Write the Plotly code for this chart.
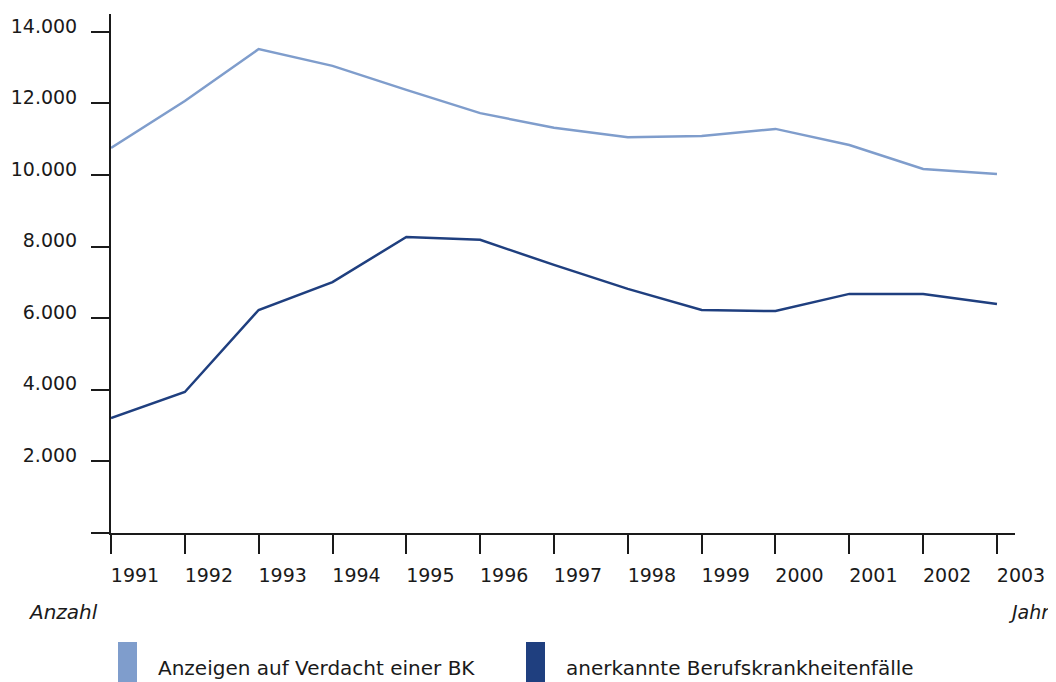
import plotly.graph_objects as go

years = list(range(1991, 2004))
anzeigen = [10760, 12070, 13520, 13050, 12380, 11730, 11320, 11060, 11090, 11290, 10840, 10170, 10030]
anerkannt = [3210, 3940, 6230, 7010, 8270, 8190, 7490, 6820, 6230, 6200, 6680, 6680, 6400]
series_names = ["Anzeigen auf Verdacht einer BK", "anerkannte Berufskrankheitenfälle"]
colors = ["#7f9dcc", "#1f3f7f"]
y_ticks = [0, 2000, 4000, 6000, 8000, 10000, 12000, 14000]

FONT = "DejaVu Sans"
OFF = 8  # page body margin

W, H = 1056 - OFF, 682 - OFF
L, T, R, B = 111 - OFF, 14 - OFF, 1015 - OFF, 533 - OFF  # plot area in figure px
PW, PH = R - L, B - T

fig = go.Figure()
fig.add_trace(go.Scatter(x=years, y=anzeigen, mode="lines", name=series_names[0],
                         line=dict(color=colors[0], width=2.5), showlegend=False))
fig.add_trace(go.Scatter(x=years, y=anerkannt, mode="lines", name=series_names[1],
                         line=dict(color=colors[1], width=2.5), showlegend=False))

fig.update_layout(
    width=W, height=H,
    margin=dict(l=L, r=W - R, t=T, b=H - B, autoexpand=False),
    paper_bgcolor="white", plot_bgcolor="white",
    separators=",.",
    font=dict(family=FONT, color="#1a1a1a", size=17),
    xaxis=dict(
        range=[1991, 2003.244], tickmode="array", tickvals=years,
        ticktext=[str(y) for y in years], automargin=False,
        showgrid=False, zeroline=False, showline=True, linecolor="#1a1a1a", linewidth=2,
        ticks="outside", ticklen=19, tickwidth=1.5, tickcolor="#1a1a1a",
        ticklabelshift=24, ticklabelstandoff=5,
        tickfont=dict(size=19, family=FONT),
    ),
    yaxis=dict(
        range=[0, 14500], tickmode="array", tickvals=y_ticks,
        ticktext=["" if v == 0 else f"{v:,}".replace(",", ".") for v in y_ticks],
        automargin=False,
        showgrid=False, zeroline=False, showline=True, linecolor="#1a1a1a", linewidth=2,
        ticks="outside", ticklen=18, tickwidth=1.5, tickcolor="#1a1a1a",
        ticklabelstandoff=10, ticklabelshift=-6,
        tickfont=dict(size=19, family=FONT),
    ),
)

def px_x(px):
    return (px - OFF - L) / PW

def px_y(py):
    return (B - (py - OFF)) / PH

# axis titles
fig.add_annotation(text="<i>Anzahl</i>", xref="paper", yref="paper",
                   x=px_x(26), y=px_y(612), xanchor="left", yanchor="middle",
                   showarrow=False, font=dict(size=20, family=FONT, color="#1a1a1a"))
fig.add_annotation(text="<i>Jahr</i>", xref="paper", yref="paper",
                   x=px_x(1052), y=px_y(612), xanchor="right", yanchor="middle",
                   showarrow=False, font=dict(size=19, family=FONT, color="#1a1a1a"))

# legend
leg_x = [118, 526]
for i, name in enumerate(series_names):
    fig.add_shape(type="rect", xref="paper", yref="paper",
                  x0=px_x(leg_x[i]), x1=px_x(leg_x[i] + 19),
                  y0=px_y(682), y1=px_y(642),
                  fillcolor=colors[i], line=dict(width=0))
    fig.add_annotation(text=name, xref="paper", yref="paper",
                       x=px_x(leg_x[i] + 38), y=px_y(668), xanchor="left", yanchor="middle",
                       showarrow=False, font=dict(size=20, family=FONT, color="#1a1a1a"))

fig.write_html("out.html")
